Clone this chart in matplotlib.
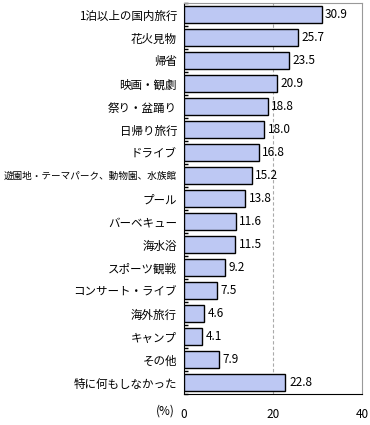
import matplotlib
matplotlib.use('Agg')
import matplotlib.pyplot as plt
from matplotlib.ticker import FixedLocator

plt.rcParams['font.family'] = ['Noto Sans CJK JP', 'DejaVu Sans']
plt.rcParams['font.size'] = 8

categories = ['1泊以上の国内旅行', '花火見物', '帰省', '映画・観劇', '祭り・盆踊り',
              '日帰り旅行', 'ドライブ', '遊園地・テーマパーク、動物園、水族館', 'プール',
              'バーベキュー', '海水浴', 'スポーツ観戦', 'コンサート・ライブ', '海外旅行',
              'キャンプ', 'その他', '特に何もしなかった']
values = [30.9, 25.7, 23.5, 20.9, 18.8, 18.0, 16.8, 15.2, 13.8,
          11.6, 11.5, 9.2, 7.5, 4.6, 4.1, 7.9, 22.8]
x_ticks = [0, 20, 40]

fig = plt.figure(figsize=(3.7, 4.25), dpi=100)
ax = fig.add_axes([184 / 370, 1 - 394 / 425, 178 / 370, 391 / 425])

y = list(range(len(categories)))
ax.barh(y, values, height=0.7, color='#bdc8f3', edgecolor='black', linewidth=1, zorder=3)
for yi, v in zip(y, values):
    ax.text(v + 0.8, yi, f'{v:.1f}', va='center', ha='left', fontsize=8.5, zorder=4)

ax.set_xlim(0, 40)
ax.set_ylim(len(categories) - 0.5, -0.5)
ax.set_yticks(y)
ax.set_yticklabels(categories, fontsize=8.3)
for lbl in ax.get_yticklabels():
    if len(lbl.get_text()) > 12:
        lbl.set_fontsize(6.9)
ax.tick_params(axis='y', length=0, pad=5)
ax.yaxis.set_minor_locator(FixedLocator([i - 0.5 for i in range(len(categories) + 1)]))
ax.tick_params(axis='y', which='minor', length=3, direction='in', width=1)

ax.set_xticks(x_ticks)
ax.tick_params(axis='x', length=0, pad=10, labelsize=8.5)
ax.axvline(20, color='#aaaaaa', linestyle=(0, (3, 2)), linewidth=0.8, zorder=1)

ax.spines['left'].set_color('black')
ax.spines['bottom'].set_color('black')
ax.spines['top'].set_color('#999999')
ax.spines['right'].set_color('#999999')

fig.text(165 / 370, 1 - 411 / 425, '(%)', ha='center', va='center', fontsize=8.5)

fig.savefig('out.png', dpi=100)
